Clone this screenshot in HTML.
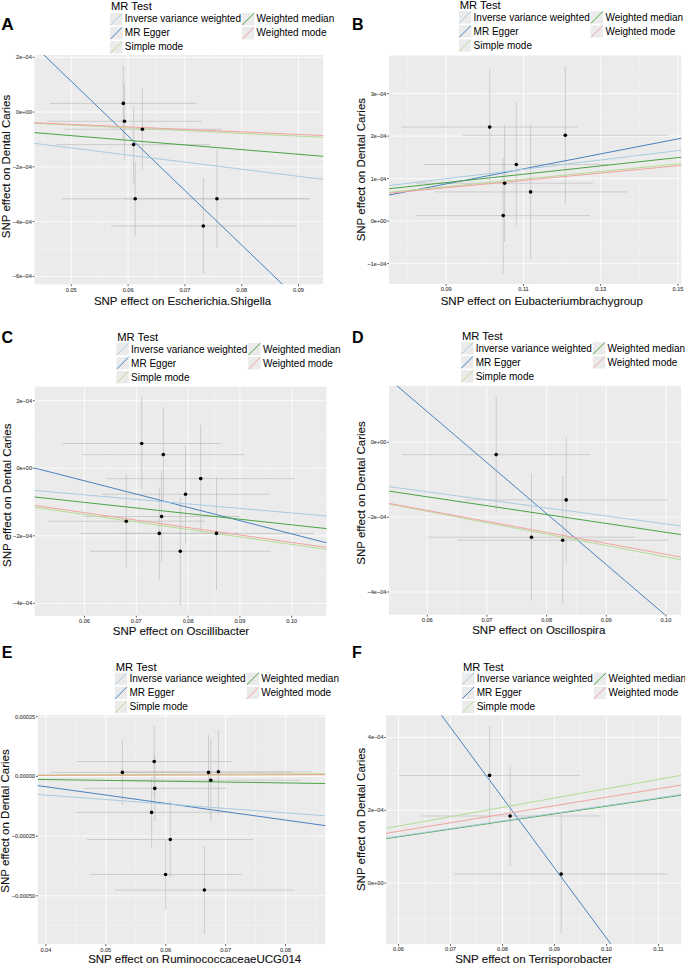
<!DOCTYPE html>
<html><head><meta charset="utf-8"><style>
html,body{margin:0;padding:0;background:#fff;width:685px;height:966px;overflow:hidden}
svg{display:block}
text{font-family:"Liberation Sans",sans-serif}
.ty{font-size:5.6px;fill:#3D3D3D;stroke:#555;stroke-width:0.12;text-anchor:end}
.tx{font-size:5.6px;fill:#3D3D3D;stroke:#555;stroke-width:0.12;text-anchor:middle}
.at{font-size:11.5px;fill:#111;stroke:#111;stroke-width:0.12;text-anchor:middle}
.pl{font-size:16px;font-weight:bold;fill:#000}
.lt{font-size:11.2px;fill:#000}
.lg{font-size:10.0px;fill:#000}
</style></head><body>
<svg width="685" height="966" viewBox="0 0 685 966">
<clipPath id="c0"><rect x="34.4" y="55.1" width="288.8" height="229.2"/></clipPath>
<rect x="34.4" y="55.1" width="288.8" height="229.2" fill="#EBEBEB"/>
<path d="M34.4 84.69H323.2M34.4 139.46H323.2M34.4 194.24H323.2M34.4 249.01H323.2M42.9 55.1V284.3M99.7 55.1V284.3M156.5 55.1V284.3M213.3 55.1V284.3M270.1 55.1V284.3" stroke="#f8f8f8" stroke-width="0.4" fill="none"/>
<path d="M34.4 57.3H323.2M34.4 112.07H323.2M34.4 166.85H323.2M34.4 221.62H323.2M34.4 276.4H323.2M71.3 55.1V284.3M128.1 55.1V284.3M184.9 55.1V284.3M241.7 55.1V284.3M298.5 55.1V284.3" stroke="#fff" stroke-width="0.8" fill="none"/>
<g clip-path="url(#c0)"><path d="M123.3 66V140.8M124.4 83.5V159.7M142.4 87.8V170.6M133.6 105.8V183.4M135.2 162V236.5M216.9 150.6V248M203.3 178V274M49.8 103.4H196.4M47.6 121.3H201.7M63.6 129.2H221.9M56.5 144.6H209.6M61.5 198.8H310M124 198.8H310M111 226H296.5" stroke="#BEBEBE" stroke-width="0.7" fill="none"/>
<path d="M29.4 41.06L328.2 328.24" stroke="#4a80bf" stroke-width="1.0" fill="none"/>
<path d="M29.4 132.22L328.2 156.71" stroke="#4aa343" stroke-width="1.0" fill="none"/>
<path d="M29.4 142.73L328.2 180.02" stroke="#a8cce0" stroke-width="1.0" fill="none"/>
<path d="M29.4 123.08L328.2 137.54" stroke="#b4dc94" stroke-width="1.0" fill="none"/>
<path d="M29.4 122.5L328.2 135.72" stroke="#f2a2a2" stroke-width="1.0" fill="none"/>
<circle cx="123.3" cy="103.4" r="1.8" fill="#000"/>
<circle cx="124.4" cy="121.3" r="1.8" fill="#000"/>
<circle cx="142.4" cy="129.2" r="1.8" fill="#000"/>
<circle cx="133.6" cy="144.6" r="1.8" fill="#000"/>
<circle cx="135.2" cy="198.8" r="1.8" fill="#000"/>
<circle cx="216.9" cy="198.8" r="1.8" fill="#000"/>
<circle cx="203.3" cy="226" r="1.8" fill="#000"/>
</g>
<path d="M32.6 57.3H34.4M32.6 112.07H34.4M32.6 166.85H34.4M32.6 221.62H34.4M32.6 276.4H34.4M71.3 284.3V286.1M128.1 284.3V286.1M184.9 284.3V286.1M241.7 284.3V286.1M298.5 284.3V286.1" stroke="#333" stroke-width="0.8" fill="none"/>
<text x="31.8" y="59.2" class="ty">2e−04</text>
<text x="31.8" y="113.97" class="ty">0e+00</text>
<text x="31.8" y="168.75" class="ty">−2e−04</text>
<text x="31.8" y="223.53" class="ty">−4e−04</text>
<text x="31.8" y="278.3" class="ty">−6e−04</text>
<text x="71.3" y="291.5" class="tx">0.05</text>
<text x="128.1" y="291.5" class="tx">0.06</text>
<text x="184.9" y="291.5" class="tx">0.07</text>
<text x="241.7" y="291.5" class="tx">0.08</text>
<text x="298.5" y="291.5" class="tx">0.09</text>
<text x="182.55" y="304.7" class="at">SNP effect on Escherichia.Shigella</text>
<text transform="translate(9.9 166.5) rotate(-90)" class="at">SNP effect on Dental Caries</text>
<text transform="translate(1.3 29.7) scale(1.08 1)" class="pl">A</text>
<text x="111" y="10.2" class="lt">MR Test</text>
<rect x="110.1" y="13" width="12.4" height="12.4" fill="#EBEBEB"/>
<path d="M110.4 25.1L122.2 13.3" stroke="#a8cce0" stroke-width="1.0"/>
<text x="124.8" y="21.8" class="lg">Inverse variance weighted</text>
<rect x="110.1" y="27.05" width="12.4" height="12.4" fill="#EBEBEB"/>
<path d="M110.4 39.15L122.2 27.35" stroke="#4a80bf" stroke-width="1.0"/>
<text x="124.8" y="35.85" class="lg">MR Egger</text>
<rect x="110.1" y="41.1" width="12.4" height="12.4" fill="#EBEBEB"/>
<path d="M110.4 53.2L122.2 41.4" stroke="#b4dc94" stroke-width="1.0"/>
<text x="124.8" y="49.9" class="lg">Simple mode</text>
<rect x="241.9" y="13" width="12.4" height="12.4" fill="#EBEBEB"/>
<path d="M242.2 25.1L254 13.3" stroke="#4aa343" stroke-width="1.0"/>
<text x="256.6" y="21.8" class="lg">Weighted median</text>
<rect x="241.9" y="27.05" width="12.4" height="12.4" fill="#EBEBEB"/>
<path d="M242.2 39.15L254 27.35" stroke="#f2a2a2" stroke-width="1.0"/>
<text x="256.6" y="35.85" class="lg">Weighted mode</text>
<clipPath id="c1"><rect x="389" y="55.5" width="292.4" height="228.5"/></clipPath>
<rect x="389" y="55.5" width="292.4" height="228.5" fill="#EBEBEB"/>
<path d="M389 72.35H681.4M389 114.85H681.4M389 157.35H681.4M389 199.85H681.4M389 242.35H681.4M407.57 55.5V284M484.83 55.5V284M562.1 55.5V284M639.37 55.5V284" stroke="#f8f8f8" stroke-width="0.4" fill="none"/>
<path d="M389 93.6H681.4M389 136.1H681.4M389 178.6H681.4M389 221.1H681.4M389 263.6H681.4M446.2 55.5V284M523.47 55.5V284M600.73 55.5V284M678 55.5V284" stroke="#fff" stroke-width="0.8" fill="none"/>
<g clip-path="url(#c1)"><path d="M489.7 69V185.2M565.3 66.1V204.5M516.3 102.3V226.7M504.6 124.5V241.9M530.6 125V258.5M503.2 157.2V274M402.1 127.1H577.3M462.9 135.3H668M424 164.5H608.6M416 183.2H593M434.3 191.9H627.5M416.2 215.6H590.1" stroke="#BEBEBE" stroke-width="0.7" fill="none"/>
<path d="M384 196.01L686.4 137.23" stroke="#4a80bf" stroke-width="1.0" fill="none"/>
<path d="M384 189.26L686.4 156.66" stroke="#4aa343" stroke-width="1.0" fill="none"/>
<path d="M384 186.23L686.4 149.59" stroke="#a8cce0" stroke-width="1.0" fill="none"/>
<path d="M384 192.81L686.4 163.11" stroke="#b4dc94" stroke-width="1.0" fill="none"/>
<path d="M384 193.69L686.4 164.92" stroke="#f2a2a2" stroke-width="1.0" fill="none"/>
<circle cx="489.7" cy="127.1" r="1.8" fill="#000"/>
<circle cx="565.3" cy="135.3" r="1.8" fill="#000"/>
<circle cx="516.3" cy="164.5" r="1.8" fill="#000"/>
<circle cx="504.6" cy="183.2" r="1.8" fill="#000"/>
<circle cx="530.6" cy="191.9" r="1.8" fill="#000"/>
<circle cx="503.2" cy="215.6" r="1.8" fill="#000"/>
</g>
<path d="M387.2 93.6H389M387.2 136.1H389M387.2 178.6H389M387.2 221.1H389M387.2 263.6H389M446.2 284V285.8M523.47 284V285.8M600.73 284V285.8M678 284V285.8" stroke="#333" stroke-width="0.8" fill="none"/>
<text x="386.4" y="95.5" class="ty">3e−04</text>
<text x="386.4" y="138" class="ty">2e−04</text>
<text x="386.4" y="180.5" class="ty">1e−04</text>
<text x="386.4" y="223" class="ty">0e+00</text>
<text x="386.4" y="265.5" class="ty">−1e−04</text>
<text x="446.2" y="291.2" class="tx">0.09</text>
<text x="523.47" y="291.2" class="tx">0.11</text>
<text x="600.73" y="291.2" class="tx">0.13</text>
<text x="678" y="291.2" class="tx">0.15</text>
<text x="541.8" y="304.7" class="at">SNP effect on Eubacteriumbrachygroup</text>
<text transform="translate(364.6 169.65) rotate(-90)" class="at">SNP effect on Dental Caries</text>
<text x="352.1" y="29.6" class="pl">B</text>
<text x="459.8" y="9.2" class="lt">MR Test</text>
<rect x="458.9" y="11.2" width="12.4" height="12.4" fill="#EBEBEB"/>
<path d="M459.2 23.3L471 11.5" stroke="#a8cce0" stroke-width="1.0"/>
<text x="473.6" y="20.9" class="lg">Inverse variance weighted</text>
<rect x="458.9" y="25.25" width="12.4" height="12.4" fill="#EBEBEB"/>
<path d="M459.2 37.35L471 25.55" stroke="#4a80bf" stroke-width="1.0"/>
<text x="473.6" y="34.95" class="lg">MR Egger</text>
<rect x="458.9" y="39.3" width="12.4" height="12.4" fill="#EBEBEB"/>
<path d="M459.2 51.4L471 39.6" stroke="#b4dc94" stroke-width="1.0"/>
<text x="473.6" y="49" class="lg">Simple mode</text>
<rect x="590.7" y="11.2" width="12.4" height="12.4" fill="#EBEBEB"/>
<path d="M591 23.3L602.8 11.5" stroke="#4aa343" stroke-width="1.0"/>
<text x="605.4" y="20.9" class="lg">Weighted median</text>
<rect x="590.7" y="25.25" width="12.4" height="12.4" fill="#EBEBEB"/>
<path d="M591 37.35L602.8 25.55" stroke="#f2a2a2" stroke-width="1.0"/>
<text x="605.4" y="34.95" class="lg">Weighted mode</text>
<clipPath id="c2"><rect x="34.7" y="386.6" width="291.8" height="229.2"/></clipPath>
<rect x="34.7" y="386.6" width="291.8" height="229.2" fill="#EBEBEB"/>
<path d="M34.7 434.48H326.5M34.7 502.05H326.5M34.7 569.62H326.5M58.6 386.6V615.8M110.4 386.6V615.8M162.2 386.6V615.8M214 386.6V615.8M265.8 386.6V615.8M317.6 386.6V615.8" stroke="#f8f8f8" stroke-width="0.4" fill="none"/>
<path d="M34.7 400.7H326.5M34.7 468.27H326.5M34.7 535.83H326.5M34.7 603.4H326.5M84.5 386.6V615.8M136.3 386.6V615.8M188.1 386.6V615.8M239.9 386.6V615.8M291.7 386.6V615.8" stroke="#fff" stroke-width="0.8" fill="none"/>
<g clip-path="url(#c2)"><path d="M141.7 397.1V489.6M163.3 407V502M200.7 424.8V532.3M185.5 445.3V543.4M161.6 470.7V562.4M126.3 475V567.3M159.3 487.3V579.3M216.5 476.5V590.4M180.3 497V605M62.6 443.5H220.7M82.2 454.6H244.5M107 478.6H294.4M101.7 494.3H269.5M83 516.5H240.2M48 521.2H205M80.7 533.4H237.8M118.7 533.4H313.5M90 551.3H271" stroke="#BEBEBE" stroke-width="0.7" fill="none"/>
<path d="M29.7 466.79L331.5 544.08" stroke="#4a80bf" stroke-width="1.0" fill="none"/>
<path d="M29.7 496.45L331.5 529.14" stroke="#4aa343" stroke-width="1.0" fill="none"/>
<path d="M29.7 490.05L331.5 516.44" stroke="#a8cce0" stroke-width="1.0" fill="none"/>
<path d="M29.7 506.56L331.5 550.22" stroke="#b4dc94" stroke-width="1.0" fill="none"/>
<path d="M29.7 504.77L331.5 548.12" stroke="#f2a2a2" stroke-width="1.0" fill="none"/>
<circle cx="141.7" cy="443.5" r="1.8" fill="#000"/>
<circle cx="163.3" cy="454.6" r="1.8" fill="#000"/>
<circle cx="200.7" cy="478.6" r="1.8" fill="#000"/>
<circle cx="185.5" cy="494.3" r="1.8" fill="#000"/>
<circle cx="161.6" cy="516.5" r="1.8" fill="#000"/>
<circle cx="126.3" cy="521.2" r="1.8" fill="#000"/>
<circle cx="159.3" cy="533.4" r="1.8" fill="#000"/>
<circle cx="216.5" cy="533.4" r="1.8" fill="#000"/>
<circle cx="180.3" cy="551.3" r="1.8" fill="#000"/>
</g>
<path d="M32.9 400.7H34.7M32.9 468.27H34.7M32.9 535.83H34.7M32.9 603.4H34.7M84.5 615.8V617.6M136.3 615.8V617.6M188.1 615.8V617.6M239.9 615.8V617.6M291.7 615.8V617.6" stroke="#333" stroke-width="0.8" fill="none"/>
<text x="32.1" y="402.6" class="ty">2e−04</text>
<text x="32.1" y="470.17" class="ty">0e+00</text>
<text x="32.1" y="537.73" class="ty">−2e−04</text>
<text x="32.1" y="605.3" class="ty">−4e−04</text>
<text x="84.5" y="623" class="tx">0.06</text>
<text x="136.3" y="623" class="tx">0.07</text>
<text x="188.1" y="623" class="tx">0.08</text>
<text x="239.9" y="623" class="tx">0.09</text>
<text x="291.7" y="623" class="tx">0.10</text>
<text x="181" y="634.6" class="at">SNP effect on Oscillibacter</text>
<text transform="translate(10.5 495.25) rotate(-90)" class="at">SNP effect on Dental Caries</text>
<text x="1.5" y="342.9" class="pl">C</text>
<text x="117.3" y="340.9" class="lt">MR Test</text>
<rect x="116.4" y="342.9" width="12.4" height="12.4" fill="#EBEBEB"/>
<path d="M116.7 355L128.5 343.2" stroke="#a8cce0" stroke-width="1.0"/>
<text x="131.1" y="352.6" class="lg">Inverse variance weighted</text>
<rect x="116.4" y="356.95" width="12.4" height="12.4" fill="#EBEBEB"/>
<path d="M116.7 369.05L128.5 357.25" stroke="#4a80bf" stroke-width="1.0"/>
<text x="131.1" y="366.65" class="lg">MR Egger</text>
<rect x="116.4" y="371" width="12.4" height="12.4" fill="#EBEBEB"/>
<path d="M116.7 383.1L128.5 371.3" stroke="#b4dc94" stroke-width="1.0"/>
<text x="131.1" y="380.7" class="lg">Simple mode</text>
<rect x="248.2" y="342.9" width="12.4" height="12.4" fill="#EBEBEB"/>
<path d="M248.5 355L260.3 343.2" stroke="#4aa343" stroke-width="1.0"/>
<text x="262.9" y="352.6" class="lg">Weighted median</text>
<rect x="248.2" y="356.95" width="12.4" height="12.4" fill="#EBEBEB"/>
<path d="M248.5 369.05L260.3 357.25" stroke="#f2a2a2" stroke-width="1.0"/>
<text x="262.9" y="366.65" class="lg">Weighted mode</text>
<clipPath id="c3"><rect x="389" y="385.8" width="292" height="229"/></clipPath>
<rect x="389" y="385.8" width="292" height="229" fill="#EBEBEB"/>
<path d="M389 404.88H681M389 479.73H681M389 554.58H681M397.48 385.8V614.8M457.12 385.8V614.8M516.77 385.8V614.8M576.42 385.8V614.8M636.07 385.8V614.8" stroke="#f8f8f8" stroke-width="0.4" fill="none"/>
<path d="M389 442.3H681M389 517.15H681M389 592H681M427.3 385.8V614.8M486.95 385.8V614.8M546.6 385.8V614.8M606.25 385.8V614.8M665.9 385.8V614.8" stroke="#fff" stroke-width="0.8" fill="none"/>
<g clip-path="url(#c3)"><path d="M496.2 396.2V513M566.2 437.1V562.6M531.5 473.6V600.6M562.7 475.9V604.4M402.1 454.6H590.2M465 499.9H667.5M427.9 537.2H635.1M457.7 540.2H667.7" stroke="#BEBEBE" stroke-width="0.7" fill="none"/>
<path d="M384 374.69L686 632.74" stroke="#4a80bf" stroke-width="1.0" fill="none"/>
<path d="M384 490.36L686 535.34" stroke="#4aa343" stroke-width="1.0" fill="none"/>
<path d="M384 486.03L686 526.67" stroke="#a8cce0" stroke-width="1.0" fill="none"/>
<path d="M384 503.04L686 560.76" stroke="#b4dc94" stroke-width="1.0" fill="none"/>
<path d="M384 502.48L686 558.02" stroke="#f2a2a2" stroke-width="1.0" fill="none"/>
<circle cx="496.2" cy="454.6" r="1.8" fill="#000"/>
<circle cx="566.2" cy="499.9" r="1.8" fill="#000"/>
<circle cx="531.5" cy="537.2" r="1.8" fill="#000"/>
<circle cx="562.7" cy="540.2" r="1.8" fill="#000"/>
</g>
<path d="M387.2 442.3H389M387.2 517.15H389M387.2 592H389M427.3 614.8V616.6M486.95 614.8V616.6M546.6 614.8V616.6M606.25 614.8V616.6M665.9 614.8V616.6" stroke="#333" stroke-width="0.8" fill="none"/>
<text x="386.4" y="444.2" class="ty">0e+00</text>
<text x="386.4" y="519.05" class="ty">−2e−04</text>
<text x="386.4" y="593.9" class="ty">−4e−04</text>
<text x="427.3" y="622" class="tx">0.06</text>
<text x="486.95" y="622" class="tx">0.07</text>
<text x="546.6" y="622" class="tx">0.08</text>
<text x="606.25" y="622" class="tx">0.09</text>
<text x="665.9" y="622" class="tx">0.10</text>
<text x="538.75" y="633.9" class="at">SNP effect on Oscillospira</text>
<text transform="translate(364.9 493) rotate(-90)" class="at">SNP effect on Dental Caries</text>
<text x="352.1" y="343" class="pl">D</text>
<text x="461.9" y="340.1" class="lt">MR Test</text>
<rect x="461" y="342.1" width="12.4" height="12.4" fill="#EBEBEB"/>
<path d="M461.3 354.2L473.1 342.4" stroke="#a8cce0" stroke-width="1.0"/>
<text x="475.7" y="351.8" class="lg">Inverse variance weighted</text>
<rect x="461" y="356.15" width="12.4" height="12.4" fill="#EBEBEB"/>
<path d="M461.3 368.25L473.1 356.45" stroke="#4a80bf" stroke-width="1.0"/>
<text x="475.7" y="365.85" class="lg">MR Egger</text>
<rect x="461" y="370.2" width="12.4" height="12.4" fill="#EBEBEB"/>
<path d="M461.3 382.3L473.1 370.5" stroke="#b4dc94" stroke-width="1.0"/>
<text x="475.7" y="379.9" class="lg">Simple mode</text>
<rect x="592.8" y="342.1" width="12.4" height="12.4" fill="#EBEBEB"/>
<path d="M593.1 354.2L604.9 342.4" stroke="#4aa343" stroke-width="1.0"/>
<text x="607.5" y="351.8" class="lg">Weighted median</text>
<rect x="592.8" y="356.15" width="12.4" height="12.4" fill="#EBEBEB"/>
<path d="M593.1 368.25L604.9 356.45" stroke="#f2a2a2" stroke-width="1.0"/>
<text x="607.5" y="365.85" class="lg">Weighted mode</text>
<clipPath id="c4"><rect x="37.8" y="715" width="287.4" height="229.1"/></clipPath>
<rect x="37.8" y="715" width="287.4" height="229.1" fill="#EBEBEB"/>
<path d="M37.8 746.55H325.2M37.8 806.25H325.2M37.8 865.95H325.2M37.8 925.65H325.2M75.85 715V944.1M135.75 715V944.1M195.65 715V944.1M255.55 715V944.1M315.45 715V944.1" stroke="#f8f8f8" stroke-width="0.4" fill="none"/>
<path d="M37.8 716.7H325.2M37.8 776.4H325.2M37.8 836.1H325.2M37.8 895.8H325.2M45.9 715V944.1M105.8 715V944.1M165.7 715V944.1M225.6 715V944.1M285.5 715V944.1" stroke="#fff" stroke-width="0.8" fill="none"/>
<g clip-path="url(#c4)"><path d="M154.2 726.2V796.9M122.4 739.4V805.3M208.5 735V809.7M218.4 730V813.5M210.8 738.8V821.7M154.8 754.8V822M151.6 777.3V847.4M170.3 801.5V877.5M165.6 839.5V909.6M204.4 846V934.1M76.8 761.5H231.6M50.6 772.4H194.2M124.1 772.4H292.9M124.9 771.8H311.9M120.8 780.2H300.8M83.3 788.4H226.6M76 812.4H227.2M87 839.5H253.5M90 874.5H241.5M114.5 890H294.3" stroke="#BEBEBE" stroke-width="0.7" fill="none"/>
<path d="M32.8 784.89L330.2 826.3" stroke="#4a80bf" stroke-width="1.0" fill="none"/>
<path d="M32.8 779.33L330.2 783.57" stroke="#4aa343" stroke-width="1.0" fill="none"/>
<path d="M32.8 794.12L330.2 816.17" stroke="#a8cce0" stroke-width="1.0" fill="none"/>
<path d="M32.8 775.02L330.2 773.78" stroke="#b4dc94" stroke-width="1.0" fill="none"/>
<path d="M32.8 775.52L330.2 774.58" stroke="#eba58a" stroke-width="1.0" fill="none"/>
<circle cx="154.2" cy="761.5" r="1.8" fill="#000"/>
<circle cx="122.4" cy="772.4" r="1.8" fill="#000"/>
<circle cx="208.5" cy="772.4" r="1.8" fill="#000"/>
<circle cx="218.4" cy="771.8" r="1.8" fill="#000"/>
<circle cx="210.8" cy="780.2" r="1.8" fill="#000"/>
<circle cx="154.8" cy="788.4" r="1.8" fill="#000"/>
<circle cx="151.6" cy="812.4" r="1.8" fill="#000"/>
<circle cx="170.3" cy="839.5" r="1.8" fill="#000"/>
<circle cx="165.6" cy="874.5" r="1.8" fill="#000"/>
<circle cx="204.4" cy="890" r="1.8" fill="#000"/>
</g>
<path d="M36 716.7H37.8M36 776.4H37.8M36 836.1H37.8M36 895.8H37.8M45.9 944.1V945.9M105.8 944.1V945.9M165.7 944.1V945.9M225.6 944.1V945.9M285.5 944.1V945.9" stroke="#333" stroke-width="0.8" fill="none"/>
<text x="35.2" y="718.6" class="ty">0.00025</text>
<text x="35.2" y="778.3" class="ty">0.00000</text>
<text x="35.2" y="838" class="ty">−0.00025</text>
<text x="35.2" y="897.7" class="ty">−0.00050</text>
<text x="45.9" y="951.6" class="tx">0.04</text>
<text x="105.8" y="951.6" class="tx">0.05</text>
<text x="165.7" y="951.6" class="tx">0.06</text>
<text x="225.6" y="951.6" class="tx">0.07</text>
<text x="285.5" y="951.6" class="tx">0.08</text>
<text x="194.7" y="963.1" class="at">SNP effect on RuminococcaceaeUCG014</text>
<text transform="translate(9.05 820.95) rotate(-90)" class="at">SNP effect on Dental Caries</text>
<text x="1.8" y="657.7" class="pl">E</text>
<text x="115.7" y="670.6" class="lt">MR Test</text>
<rect x="114.8" y="672.6" width="12.4" height="12.4" fill="#EBEBEB"/>
<path d="M115.1 684.7L126.9 672.9" stroke="#a8cce0" stroke-width="1.0"/>
<text x="129.5" y="682.3" class="lg">Inverse variance weighted</text>
<rect x="114.8" y="686.65" width="12.4" height="12.4" fill="#EBEBEB"/>
<path d="M115.1 698.75L126.9 686.95" stroke="#4a80bf" stroke-width="1.0"/>
<text x="129.5" y="696.35" class="lg">MR Egger</text>
<rect x="114.8" y="700.7" width="12.4" height="12.4" fill="#EBEBEB"/>
<path d="M115.1 712.8L126.9 701" stroke="#b4dc94" stroke-width="1.0"/>
<text x="129.5" y="710.4" class="lg">Simple mode</text>
<rect x="246.6" y="672.6" width="12.4" height="12.4" fill="#EBEBEB"/>
<path d="M246.9 684.7L258.7 672.9" stroke="#4aa343" stroke-width="1.0"/>
<text x="261.3" y="682.3" class="lg">Weighted median</text>
<rect x="246.6" y="686.65" width="12.4" height="12.4" fill="#EBEBEB"/>
<path d="M246.9 698.75L258.7 686.95" stroke="#f2a2a2" stroke-width="1.0"/>
<text x="261.3" y="696.35" class="lg">Weighted mode</text>
<clipPath id="c5"><rect x="386.1" y="715.3" width="295" height="228.8"/></clipPath>
<rect x="386.1" y="715.3" width="295" height="228.8" fill="#EBEBEB"/>
<path d="M386.1 773.9H681.1M386.1 846.7H681.1M386.1 919.5H681.1M424.5 715.3V944.1M476.5 715.3V944.1M528.5 715.3V944.1M580.5 715.3V944.1M632.5 715.3V944.1" stroke="#f8f8f8" stroke-width="0.4" fill="none"/>
<path d="M386.1 737.5H681.1M386.1 810.3H681.1M386.1 883.1H681.1M398.5 715.3V944.1M450.5 715.3V944.1M502.5 715.3V944.1M554.5 715.3V944.1M606.5 715.3V944.1M658.5 715.3V944.1" stroke="#fff" stroke-width="0.8" fill="none"/>
<g clip-path="url(#c5)"><path d="M489.6 726.1V825.4M510.1 765.5V866.2M561.2 814.3V933.4M399.2 775.4H580.1M419 816H601.1M454.2 874.1H667.6" stroke="#BEBEBE" stroke-width="0.7" fill="none"/>
<path d="M381.1 633.72L686.1 1045.67" stroke="#4a80bf" stroke-width="1.0" fill="none"/>
<path d="M381.1 839.34L686.1 794.46" stroke="#4aa343" stroke-width="1.0" fill="none"/>
<path d="M381.1 838.84L686.1 793.76" stroke="#a8cce0" stroke-width="1.0" fill="none"/>
<path d="M381.1 829.2L686.1 774.4" stroke="#b4dc94" stroke-width="1.0" fill="none"/>
<path d="M381.1 834.12L686.1 784.18" stroke="#f2a2a2" stroke-width="1.0" fill="none"/>
<circle cx="489.6" cy="775.4" r="1.8" fill="#000"/>
<circle cx="510.1" cy="816" r="1.8" fill="#000"/>
<circle cx="561.2" cy="874.1" r="1.8" fill="#000"/>
</g>
<path d="M384.3 737.5H386.1M384.3 810.3H386.1M384.3 883.1H386.1M398.5 944.1V945.9M450.5 944.1V945.9M502.5 944.1V945.9M554.5 944.1V945.9M606.5 944.1V945.9M658.5 944.1V945.9" stroke="#333" stroke-width="0.8" fill="none"/>
<text x="383.5" y="739.4" class="ty">4e−04</text>
<text x="383.5" y="812.2" class="ty">2e−04</text>
<text x="383.5" y="885" class="ty">0e+00</text>
<text x="398.5" y="951.3" class="tx">0.06</text>
<text x="450.5" y="951.3" class="tx">0.07</text>
<text x="502.5" y="951.3" class="tx">0.08</text>
<text x="554.5" y="951.3" class="tx">0.09</text>
<text x="606.5" y="951.3" class="tx">0.10</text>
<text x="658.5" y="951.3" class="tx">0.11</text>
<text x="533.45" y="963.1" class="at">SNP effect on Terrisporobacter</text>
<text transform="translate(364.9 819.35) rotate(-90)" class="at">SNP effect on Dental Caries</text>
<text x="352.1" y="657.7" class="pl">F</text>
<text x="462.9" y="670.6" class="lt">MR Test</text>
<rect x="462" y="672.6" width="12.4" height="12.4" fill="#EBEBEB"/>
<path d="M462.3 684.7L474.1 672.9" stroke="#a8cce0" stroke-width="1.0"/>
<text x="476.7" y="682.3" class="lg">Inverse variance weighted</text>
<rect x="462" y="686.65" width="12.4" height="12.4" fill="#EBEBEB"/>
<path d="M462.3 698.75L474.1 686.95" stroke="#4a80bf" stroke-width="1.0"/>
<text x="476.7" y="696.35" class="lg">MR Egger</text>
<rect x="462" y="700.7" width="12.4" height="12.4" fill="#EBEBEB"/>
<path d="M462.3 712.8L474.1 701" stroke="#b4dc94" stroke-width="1.0"/>
<text x="476.7" y="710.4" class="lg">Simple mode</text>
<rect x="593.8" y="672.6" width="12.4" height="12.4" fill="#EBEBEB"/>
<path d="M594.1 684.7L605.9 672.9" stroke="#4aa343" stroke-width="1.0"/>
<text x="608.5" y="682.3" class="lg">Weighted median</text>
<rect x="593.8" y="686.65" width="12.4" height="12.4" fill="#EBEBEB"/>
<path d="M594.1 698.75L605.9 686.95" stroke="#f2a2a2" stroke-width="1.0"/>
<text x="608.5" y="696.35" class="lg">Weighted mode</text>
</svg>
</body></html>
